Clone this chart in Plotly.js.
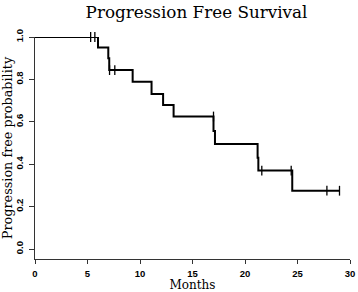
<!DOCTYPE html>
<html>
<head>
<meta charset="utf-8">
<script src="https://cdn.plot.ly/plotly-3.0.1.min.js"></script>
<style>html,body{margin:0;padding:0;background:#fff;}#chart{width:358px;height:292px;}</style>
</head>
<body>
<div id="chart"></div>
<script>
// Kaplan-Meier step curve (months, survival probability)
const stepMonths = [0, 6.0, 6.98, 7.07, 9.3, 11.1, 12.2, 13.2, 17.0, 17.14, 21.2, 21.27, 24.5, 29.0];
const stepSurvival = [1.0, 0.951, 0.90, 0.844, 0.789, 0.731, 0.679, 0.625, 0.557, 0.495, 0.43, 0.37, 0.275, 0.275];
// Censored observations (months)
const censorMonths = [5.3, 5.7, 7.1, 7.6, 17.0, 21.6, 24.4, 27.8, 29.0];
const xTicks = [0, 5, 10, 15, 20, 25, 30];
const yTicks = [0, 0.2, 0.4, 0.6, 0.8, 1.0];
const yTickLabels = ["0.0", "0.2", "0.4", "0.6", "0.8", "1.0"];

function survAt(t) {
  let s = stepSurvival[0];
  for (let i = 0; i < stepMonths.length; i++) {
    if (stepMonths[i] < t) s = stepSurvival[i];
  }
  return s;
}
const censorSurvival = censorMonths.map(survAt);

const serif = "DejaVu Serif, Liberation Serif, serif";
const tickFont = {family: "Liberation Sans Narrow, Liberation Sans, Arial, sans-serif", size: 9.5, color: "#000", weight: 600};

const traces = [
  {x: stepMonths, y: stepSurvival, type: "scatter", mode: "lines",
   line: {shape: "hv", color: "#000", width: 2}, hoverinfo: "skip", cliponaxis: false},
  {x: censorMonths, y: censorSurvival, type: "scatter", mode: "markers",
   marker: {symbol: "line-ns", size: 7, line: {color: "#000", width: 1.3}},
   cliponaxis: false}
];

const layout = {
  width: 358, height: 292,
  margin: {l: 35, r: 8, t: 37, b: 33},
  paper_bgcolor: "#fff", plot_bgcolor: "#fff",
  showlegend: false,
  title: {text: "Progression Free Survival", font: {family: serif, size: 16.8, color: "#000"},
          x: 0.549, xref: "container", xanchor: "center", y: 0.958, yref: "container", yanchor: "middle"},
  xaxis: {
    range: [0, 30], tickvals: xTicks, ticktext: xTicks.map(String),
    showgrid: false, zeroline: false, showline: true, linecolor: "#333", linewidth: 1,
    ticks: "outside", ticklen: 4, tickcolor: "#333", tickwidth: 1,
    tickfont: tickFont, ticklabelstandoff: 2,
    title: {text: "Months", font: {family: serif, size: 12, color: "#000"}, standoff: 4}
  },
  yaxis: {
    range: [-0.047, 1.0], tickvals: yTicks, ticktext: yTickLabels, tickangle: -90,
    showgrid: false, zeroline: false, showline: true, linecolor: "#333", linewidth: 1,
    ticks: "outside", ticklen: 5, tickcolor: "#333", tickwidth: 1,
    tickfont: tickFont, ticklabelstandoff: 2,
    title: {text: "Progression free probability", font: {family: serif, size: 12.8, color: "#000"}, standoff: 0}
  }
};

Plotly.newPlot("chart", traces, layout, {displayModeBar: false, staticPlot: true});
</script>
</body>
</html>
